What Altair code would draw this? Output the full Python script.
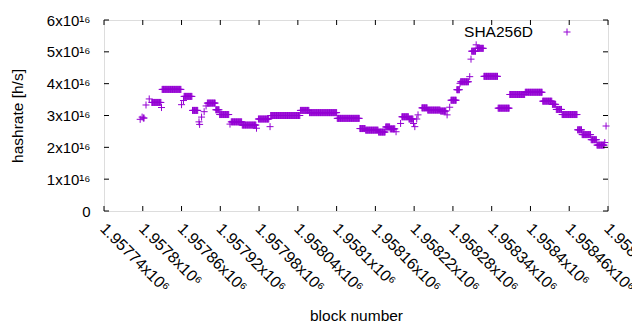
import json
import altair as alt
import pandas as pd

# segments of constant hashrate estimate (block range, value in 1e16 h/s)
seg_start = [1957796, 1957799, 1957801, 1957805, 1957810, 1957814, 1957829, 1957830, 1957860, 1957863,
             1957864, 1957877, 1957887, 1957888, 1957891, 1957895, 1957898, 1957900, 1957913, 1957919,
             1957935, 1957937, 1957954, 1957976, 1957979, 1957997, 1957998, 1958044, 1958058, 1958101,
             1958136, 1958145, 1958165, 1958176, 1958183, 1958192, 1958199, 1958201, 1958212, 1958219,
             1958221, 1958224, 1958226, 1958232, 1958241, 1958261, 1958271, 1958275, 1958277, 1958286,
             1958291, 1958292, 1958306, 1958308, 1958309, 1958316, 1958318, 1958328, 1958350, 1958368,
             1958392, 1958419, 1958434, 1958440, 1958449, 1958473, 1958480, 1958494, 1958503, 1958515,
             1958517]
seg_end = [1957796, 1957799, 1957802, 1957805, 1957810, 1957828, 1957829, 1957859, 1957860, 1957863,
           1957876, 1957885, 1957887, 1957888, 1957891, 1957895, 1957898, 1957912, 1957918, 1957933,
           1957935, 1957953, 1957975, 1957976, 1957995, 1957997, 1958043, 1958057, 1958100, 1958135,
           1958144, 1958164, 1958175, 1958182, 1958190, 1958192, 1958199, 1958211, 1958218, 1958219,
           1958221, 1958224, 1958226, 1958240, 1958260, 1958269, 1958271, 1958275, 1958285, 1958290,
           1958291, 1958304, 1958306, 1958308, 1958315, 1958316, 1958327, 1958349, 1958367, 1958391,
           1958418, 1958433, 1958439, 1958448, 1958472, 1958479, 1958493, 1958502, 1958514, 1958515,
           1958517]
seg_value = [2.88, 2.95, 2.92, 3.33, 3.52, 3.41, 3.25, 3.82, 3.34, 3.47,
             3.60, 3.16, 2.80, 2.72, 2.95, 3.12, 3.30, 3.39, 3.18, 3.03,
             2.73, 2.80, 2.70, 2.60, 2.89, 2.65, 3.00, 3.16, 3.09, 2.91,
             2.59, 2.54, 2.48, 2.64, 2.58, 2.49, 2.75, 2.96, 2.89, 2.75,
             2.65, 2.89, 3.02, 3.24, 3.17, 3.14, 3.02, 3.26, 3.48, 3.81,
             4.01, 4.06, 4.22, 4.77, 5.02, 5.22, 5.11, 4.23, 3.23, 3.66,
             3.73, 3.45, 3.35, 3.19, 3.03, 2.55, 2.40, 2.24, 2.07, 2.15,
             2.67]

x_tick_values = [1957740, 1957800, 1957860, 1957920, 1957980, 1958040, 1958100,
                 1958160, 1958220, 1958280, 1958340, 1958400, 1958460, 1958520]
x_tick_labels = ["1.95774x10\u2076", "1.9578x10\u2076", "1.95786x10\u2076",
                 "1.95792x10\u2076", "1.95798x10\u2076", "1.95804x10\u2076",
                 "1.9581x10\u2076", "1.95816x10\u2076", "1.95822x10\u2076",
                 "1.95828x10\u2076", "1.95834x10\u2076", "1.9584x10\u2076",
                 "1.95846x10\u2076", "1.95852x10\u2076"]
y_tick_values = [0, 1e16, 2e16, 3e16, 4e16, 5e16, 6e16]
y_tick_labels = ["0", "1x10\u00b9\u2076\u00a0\u00a0", "2x10\u00b9\u2076\u00a0\u00a0", "3x10\u00b9\u2076\u00a0\u00a0",
                 "4x10\u00b9\u2076\u00a0\u00a0", "5x10\u00b9\u2076\u00a0\u00a0", "6x10\u00b9\u2076\u00a0\u00a0"]
series_name = "SHA256D"

rows = []
for s, e, v in zip(seg_start, seg_end, seg_value):
    for b in range(s, e + 1):
        rows.append({"block": b, "hashrate": v * 1e16})
df = pd.DataFrame(rows)

W, H = 504, 191
FONT = "Liberation Sans"
COLOR = "#9400D3"
PLUS = "M-1,0H1M0,-1V1"

xs = alt.Scale(domain=[1957740, 1958520], nice=False, zero=False)
ys = alt.Scale(domain=[0, 6e16], nice=False)

xlab = json.dumps(x_tick_labels, ensure_ascii=False)
ylab = json.dumps(y_tick_labels, ensure_ascii=False)

x_axis = alt.Axis(
    values=x_tick_values, ticks=False, tickSize=0, domain=False, grid=False,
    labelExpr=f"{xlab}[round((datum.value-1957740)/60)]",
    labelAngle=45, labelAlign="left", labelBaseline="top", labelPadding=9, labelOffset=4,
    labelOverlap=False, labelFlush=False, labelBound=False,
    labelFontSize=16, labelFont=FONT, labelColor="black",
    title="block number", titleFont=FONT, titleFontSize=15.5, titleFontWeight="normal",
    titleX=252, titleY=104, titleAlign="center", titleBaseline="middle", titleColor="black")
y_axis = alt.Axis(
    values=y_tick_values, ticks=False, tickSize=0, domain=False, grid=False,
    labelExpr=f"{ylab}[round(datum.value/1e16)]",
    labelPadding=14, labelFontSize=15, labelFont=FONT, labelColor="black",
    labelBaseline="middle", labelOverlap=False, labelFlush=False,
    title="hashrate [h/s]", titleFont=FONT, titleFontSize=15.5, titleFontWeight="normal",
    titleAngle=270, titleX=-87, titleY=95.5, titleAlign="center", titleBaseline="middle",
    titleColor="black")

points = alt.Chart(df).mark_point(shape=PLUS, size=49, filled=False, strokeWidth=1, opacity=1, color=COLOR).encode(
    x=alt.X("block:Q", scale=xs, axis=x_axis),
    y=alt.Y("hashrate:Q", scale=ys, axis=y_axis),
)

xt = pd.DataFrame({"block": x_tick_values})
yt = pd.DataFrame({"hashrate": y_tick_values})

xt_bottom = alt.Chart(xt).mark_rule(color="black", strokeWidth=1).encode(
    x=alt.X("block:Q", scale=xs, axis=x_axis), y=alt.value(H), y2=alt.value(H - 5))
xt_top = alt.Chart(xt).mark_rule(color="black", strokeWidth=1).encode(
    x=alt.X("block:Q", scale=xs, axis=x_axis), y=alt.value(0), y2=alt.value(5))
yt_left = alt.Chart(yt).mark_rule(color="black", strokeWidth=1).encode(
    y=alt.Y("hashrate:Q", scale=ys, axis=y_axis), x=alt.value(0), x2=alt.value(5))
yt_right = alt.Chart(yt).mark_rule(color="black", strokeWidth=1).encode(
    y=alt.Y("hashrate:Q", scale=ys, axis=y_axis), x=alt.value(W), x2=alt.value(W - 5))

leg = pd.DataFrame({"name": [series_name]})
leg_text = alt.Chart(leg).mark_text(align="right", baseline="middle", font=FONT, fontSize=15.5, color="black").encode(
    text="name:N", x=alt.value(429), y=alt.value(12))
leg_sym = alt.Chart(leg).mark_point(shape=PLUS, size=49, filled=False, strokeWidth=1, opacity=1, color=COLOR).encode(
    x=alt.value(463), y=alt.value(12))

chart = alt.layer(points, xt_bottom, xt_top, yt_left, yt_right, leg_text, leg_sym).properties(
    width=W, height=H,
    autosize=alt.AutoSizeParams(type="none"),
    padding={"left": 96, "top": 12, "right": 24, "bottom": 111},
).configure_view(stroke="black", strokeWidth=1).configure(background="white")

chart.save("out.html", embed_options={"renderer": "svg", "actions": False})
